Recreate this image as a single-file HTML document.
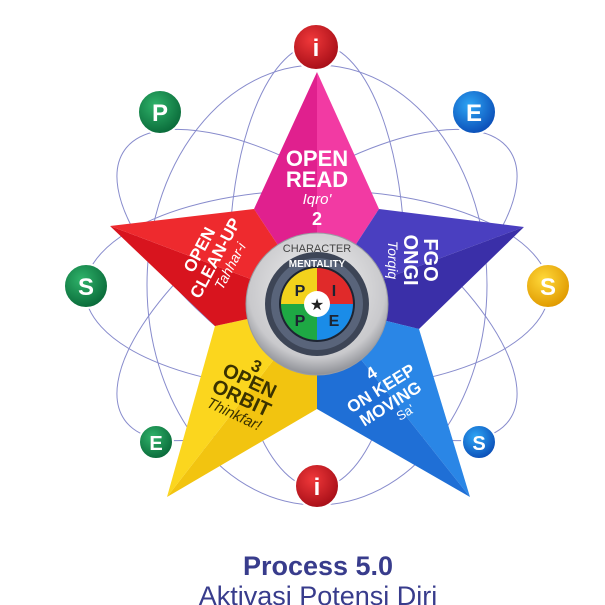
<!DOCTYPE html>
<html><head><meta charset="utf-8"><style>
html,body{margin:0;padding:0;background:#fff;width:605px;height:605px;overflow:hidden}
svg text{font-family:"Liberation Sans",sans-serif}
</style></head><body>
<svg width="605" height="605" viewBox="0 0 605 605" xmlns="http://www.w3.org/2000/svg">
<defs>
<radialGradient id="sil" cx="50%" cy="40%" r="60%"><stop offset="0" stop-color="#f4f4f4"/><stop offset="0.8" stop-color="#c9c9cc"/><stop offset="1" stop-color="#8e9096"/></radialGradient>
<radialGradient id="gr" cx="40%" cy="35%" r="65%"><stop offset="0" stop-color="#2fb36a"/><stop offset="1" stop-color="#0a6b3a"/></radialGradient>
<radialGradient id="rd" cx="40%" cy="35%" r="65%"><stop offset="0" stop-color="#f0383a"/><stop offset="1" stop-color="#a80f18"/></radialGradient>
<radialGradient id="bl" cx="40%" cy="35%" r="65%"><stop offset="0" stop-color="#2ea6f5"/><stop offset="1" stop-color="#0b4fb8"/></radialGradient>
<radialGradient id="yl" cx="40%" cy="35%" r="65%"><stop offset="0" stop-color="#ffd93a"/><stop offset="1" stop-color="#e09a00"/></radialGradient>
</defs>
<g fill="none" stroke="#6a6fc0" stroke-width="1" opacity="0.8">
<ellipse cx="317" cy="266" rx="88" ry="222"/>
<ellipse cx="317" cy="290" rx="232" ry="100"/>
<ellipse cx="317" cy="285" rx="235" ry="95" transform="rotate(35 317 285)"/>
<ellipse cx="317" cy="285" rx="235" ry="95" transform="rotate(-35 317 285)"/>
<ellipse cx="317" cy="285" rx="170" ry="220"/>
</g>
<!-- star -->
<polygon points="317,72 254,209 317,304" fill="#e0208e"/>
<polygon points="317,72 379,209 317,304" fill="#f23aa3"/>
<polygon points="524,227 379,209 317,304" fill="#4a3fc0"/>
<polygon points="524,227 419,329 317,304" fill="#3a2fa8"/>
<polygon points="470,497 419,329 317,304" fill="#2a86e6"/>
<polygon points="470,497 317,409 317,304" fill="#1f6fd6"/>
<polygon points="167,497 317,409 317,304" fill="#f2c410"/>
<polygon points="167,497 215,326 317,304" fill="#fbd61e"/>
<polygon points="110,226 215,326 317,304" fill="#d8141e"/>
<polygon points="110,226 254,209 317,304" fill="#ee2a2e"/>
<!-- labels -->
<g fill="#fff" font-weight="bold" text-anchor="middle">
<text x="317" y="166" font-size="22">OPEN</text>
<text x="317" y="187" font-size="22">READ</text>
<text x="317" y="204" font-size="15" font-weight="normal" font-style="italic">Iqro'</text>
<text x="317" y="225" font-size="18">2</text>
<g transform="translate(215,258) rotate(-62)">
<text x="0" y="-12" font-size="17">OPEN</text><text x="0" y="6" font-size="17">CLEAN-UP</text>
<text x="0" y="22" font-size="14" font-weight="normal" font-style="italic">Tahhar-i</text></g>
<g transform="translate(412,260) rotate(90)">
<text x="0" y="-12" font-size="20">FGO</text><text x="0" y="8" font-size="20">ONGI</text>
<text x="0" y="24" font-size="14" font-weight="normal" font-style="italic">Torqiq</text></g>
<g transform="translate(385,395) rotate(-32)">
<text x="0" y="-20" font-size="17">4</text><text x="0" y="-2" font-size="17">ON KEEP</text><text x="0" y="16" font-size="17">MOVING</text>
<text x="8" y="30" font-size="13" font-weight="normal">Sa'</text></g>
</g>
<g fill="#3a3200" font-weight="bold" text-anchor="middle" transform="translate(243,395) rotate(25)">
<text x="0" y="-26" font-size="17">3</text><text x="0" y="-9" font-size="20">OPEN</text><text x="0" y="10" font-size="20">ORBIT</text>
<text x="0" y="26" font-size="15" font-weight="normal" font-style="italic">Thinkfar!</text></g>
<!-- center -->
<circle cx="317" cy="304" r="71" fill="url(#sil)" stroke="#9a9ca2"/>
<circle cx="317" cy="304" r="52" fill="#3d4556"/>
<circle cx="317" cy="304" r="46" fill="#59647a"/>
<circle cx="317" cy="304" r="38" fill="#1d2432"/>
<path d="M317 304 L317 268 A36 36 0 0 0 281 304Z" fill="#f2d21c"/>
<path d="M317 304 L353 304 A36 36 0 0 0 317 268Z" fill="#e02a2a"/>
<path d="M317 304 L281 304 A36 36 0 0 0 317 340Z" fill="#1ea844"/>
<path d="M317 304 L317 340 A36 36 0 0 0 353 304Z" fill="#1a8ce8"/>
<circle cx="317" cy="304" r="13" fill="#fff"/>
<text x="317" y="310" font-size="16" text-anchor="middle" fill="#222">★</text>
<g font-weight="bold" font-size="16" fill="#1d2432" text-anchor="middle">
<text x="300" y="296">P</text><text x="334" y="296">I</text><text x="300" y="326">P</text><text x="334" y="326">E</text></g>
<text x="317" y="252" font-size="11" text-anchor="middle" fill="#444" transform="rotate(0)">CHARACTER</text>
<text x="317" y="267" font-size="10" font-weight="bold" text-anchor="middle" fill="#fff">MENTALITY</text>
<!-- circles -->
<g font-weight="bold" font-size="24" fill="#fff" text-anchor="middle" stroke="#fff" stroke-width="0">
<circle cx="316" cy="47" r="23" fill="url(#rd)" stroke="#fff" stroke-width="2"/><text x="316" y="56">i</text>
<circle cx="160" cy="112" r="22" fill="url(#gr)" stroke="#fff" stroke-width="2"/><text x="160" y="121">P</text>
<circle cx="474" cy="112" r="22" fill="url(#bl)" stroke="#fff" stroke-width="2"/><text x="474" y="121">E</text>
<circle cx="86" cy="286" r="22" fill="url(#gr)" stroke="#fff" stroke-width="2"/><text x="86" y="295">S</text>
<circle cx="548" cy="286" r="22" fill="url(#yl)" stroke="#fff" stroke-width="2"/><text x="548" y="295">S</text>
<circle cx="156" cy="442" r="17" fill="url(#gr)" stroke="#fff" stroke-width="2"/><text x="156" y="450" font-size="20">E</text>
<circle cx="479" cy="442" r="17" fill="url(#bl)" stroke="#fff" stroke-width="2"/><text x="479" y="450" font-size="20">S</text>
<circle cx="317" cy="486" r="22" fill="url(#rd)" stroke="#fff" stroke-width="2"/><text x="317" y="495">i</text>
</g>
<text x="318" y="575" font-size="27" font-weight="bold" fill="#383c8c" text-anchor="middle">Process 5.0</text>
<text x="318" y="605" font-size="27" fill="#383c8c" text-anchor="middle">Aktivasi Potensi Diri</text>
</svg>
</body></html>
